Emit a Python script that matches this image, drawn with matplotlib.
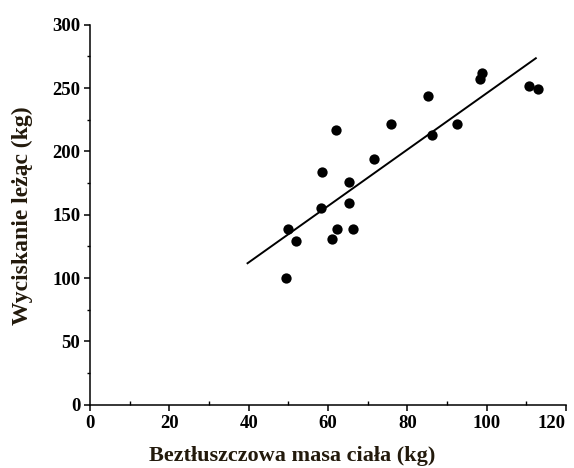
import matplotlib
matplotlib.use("Agg")
import matplotlib.pyplot as plt
from matplotlib.ticker import MultipleLocator

# Dane
masa_ciala = [49.3, 49.8, 51.9, 58.1, 58.6, 62.0, 61.0, 62.3, 65.3, 65.3,
              66.2, 71.5, 75.8, 85.1, 86.3, 92.5, 98.3, 98.9, 110.7, 113.0]
wyciskanie = [100, 139, 129, 155, 184, 217, 131, 139, 176, 159,
              139, 194, 222, 244, 213, 222, 257, 262, 252, 249]

# Linia regresji
linia_x = [39.7, 112.4]
wyraz_wolny = 23.4
nachylenie = 2.226

x_ticks = [0, 20, 40, 60, 80, 100, 120]

kolor_tekstu = "#231a0c"
plt.rcParams["font.family"] = ["Liberation Serif", "DejaVu Serif"]

fig = plt.figure(figsize=(5.74, 4.68), dpi=100)
ax = fig.add_axes([0.157, 0.135, 0.829, 0.812])

ax.scatter(masa_ciala, wyciskanie, s=55, color="black", zorder=3,
           linewidths=0)
linia_y = [wyraz_wolny + nachylenie * x for x in linia_x]
ax.plot(linia_x, linia_y, color="black", linewidth=1.4)

ax.set_xlim(0, 120)
ax.set_ylim(0, 300)
ax.set_xticks(x_ticks, [str(t) for t in x_ticks])
ax.xaxis.set_minor_locator(MultipleLocator(10))
ax.yaxis.set_major_locator(MultipleLocator(50))
ax.yaxis.set_minor_locator(MultipleLocator(25))

for s in ["top", "right"]:
    ax.spines[s].set_visible(False)
for s in ["left", "bottom"]:
    ax.spines[s].set_linewidth(1.1)

ax.tick_params(which="major", direction="out", length=4, width=1.1,
               labelsize=13.5, pad=3)
ax.tick_params(axis="x", which="minor", direction="in", length=3, width=1)
ax.tick_params(axis="y", which="minor", direction="out", length=2.5, width=1)
for lab in ax.get_xticklabels() + ax.get_yticklabels():
    lab.set_fontweight("bold")
# ostatnia etykieta osi X dosunięta do prawej, żeby zmieściła się w obrazku
ax.get_xticklabels()[-1].set_horizontalalignment("right")

ax.set_xlabel("Beztłuszczowa masa ciała (kg)", fontsize=16,
              fontweight="bold", color=kolor_tekstu)
ax.xaxis.set_label_coords(0.424, -0.108)
ax.set_ylabel("Wyciskanie leżąc (kg)", fontsize=17,
              fontweight="bold", color=kolor_tekstu)
ax.yaxis.set_label_coords(-0.121, 0.497)

fig.savefig("out.png", dpi=100)
